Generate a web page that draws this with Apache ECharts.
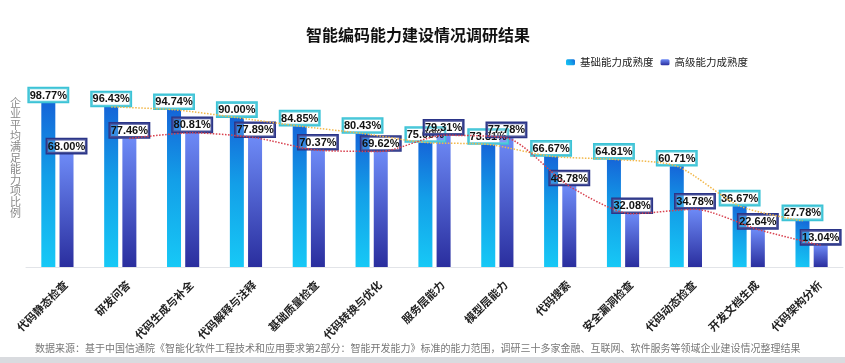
<!DOCTYPE html>
<html>
<head>
<meta charset="utf-8">
<script src="https://cdn.jsdelivr.net/npm/echarts@6/dist/echarts.min.js"></script>
<style>
html,body{margin:0;padding:0;background:#fff;}
#c{width:845px;height:363px;}
</style>
</head>
<body>
<div id="c"></div>
<script>
const categories = ['代码静态检查','研发问答','代码生成与补全','代码解释与注释','基础质量检查','代码转换与优化','服务层能力','模型层能力','代码搜索','安全漏洞检查','代码动态检查','开发文档生成','代码架构分析'];
const basicValues = [98.77,96.43,94.74,90.00,84.85,80.43,75.00,73.81,66.67,64.81,60.71,36.67,27.78];
const advancedValues = [68.00,77.46,80.81,77.89,70.37,69.62,79.31,77.78,48.78,32.08,34.78,22.64,13.04];
const seriesNames = ['基础能力成熟度','高级能力成熟度'];
const titleText = '智能编码能力建设情况调研结果';
const yAxisName = '企业平均满足能力项比例';
const sourceText = '数据来源：基于中国信通院《智能化软件工程技术和应用要求第2部分：智能开发能力》标准的能力范围，调研三十多家金融、互联网、软件服务等领域企业建设情况整理结果';

const chart = echarts.init(document.getElementById('c'), null, {renderer:'canvas'});
const FONT = '"Noto Sans CJK SC", "Noto Sans", sans-serif';
const NUMFONT = '"Liberation Sans", Arial, sans-serif';
const barOff = 0.143; // bar center offset in category units
const lineBasic = basicValues.slice(1).map((v,i)=>[i+1-barOff, v]);
const lineAdv = advancedValues.slice(1).map((v,i)=>[i+1+barOff, v]);

function lbl(border){
  return {show:true, position:'top', distance:1,
    formatter: p => p.value.toFixed(2)+'%',
    fontFamily: NUMFONT, fontSize:11, fontWeight:'bold', color:'#111',
    borderColor:border, borderWidth:1.3, padding:[1,1,0,1], lineHeight:13,
    backgroundColor:'rgba(255,255,255,0.15)'};
}

chart.setOption({
  animation:false,
  backgroundColor:'#fff',
  title:{text:titleText, left:301, top:22, textStyle:{fontFamily:FONT, fontSize:16, fontWeight:'bold', color:'#111'}},
  legend:{right:92, top:52, itemWidth:9, itemHeight:6, itemGap:7,
    data:seriesNames,
    textStyle:{fontFamily:FONT, fontSize:10.5, fontWeight:'normal', color:'#222'}},
  grid:{left:26, right:2, top:101, bottom:96},
  xAxis:[{type:'category', data:categories,
    axisLine:{lineStyle:{color:'#e2e4e8'}}, axisTick:{show:false},
    axisLabel:{interval:0, rotate:45, margin:16, verticalAlign:'top', padding:[0,-6,0,0],
      fontFamily:FONT, fontSize:11, fontWeight:'bold', color:'#222'}},
    {type:'value', min:-0.5, max:12.5, show:false}],
  yAxis:{type:'value', min:0, max:100, show:false, splitLine:{show:false}},
  graphic:[
    {type:'text', left:10, top:97, style:{text:yAxisName.split('').join('\n'), fontFamily:FONT, fontSize:11, lineHeight:11, fill:'#8a8a8a'}},
    {type:'text', left:35, top:343, style:{text:sourceText, fontFamily:FONT, fontSize:10, fill:'#777'}},
    {type:'rect', left:0, top:357, shape:{width:845, height:6}, style:{fill:'#d9dbdf'}}
  ],
  series:[
    {name:seriesNames[0], type:'bar', xAxisIndex:0, data:basicValues, barWidth:14, barGap:'30%',
      itemStyle:{color:new echarts.graphic.LinearGradient(0,1,1,0,[{offset:0,color:'#17c9f6'},{offset:0.55,color:'#139fe8'},{offset:1,color:'#1565d8'}])},
      label:lbl('#3cc3d6'), z:2},
    {name:seriesNames[1], type:'bar', xAxisIndex:0, data:advancedValues, barWidth:14,
      itemStyle:{color:new echarts.graphic.LinearGradient(0,0,0,1,[{offset:0,color:'#6d8af6'},{offset:1,color:'#2a2e9e'}])},
      label:lbl('#2b3588'), z:2},
    {type:'line', xAxisIndex:1, data:lineBasic, smooth:0.25, symbol:'none',
      lineStyle:{color:'#f2b84b', width:1.5, type:'dotted'}, z:3, silent:true},
    {type:'line', xAxisIndex:1, data:lineAdv, smooth:0.25, symbol:'none',
      lineStyle:{color:'#d8404e', width:1.5, type:'dotted'}, z:3, silent:true}
  ]
});
</script>
</body>
</html>
